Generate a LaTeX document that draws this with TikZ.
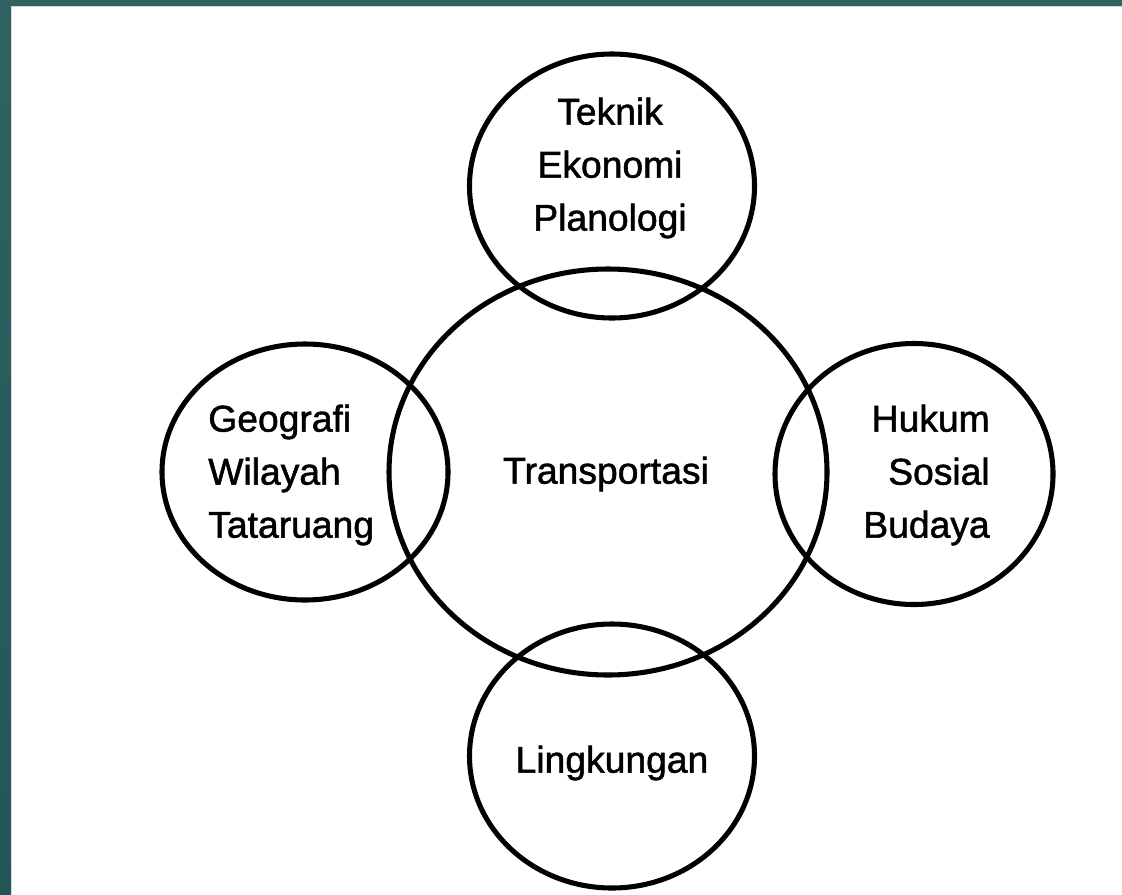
\documentclass[tikz,border=0pt]{standalone}
\usepackage{fontspec}
\setmainfont{Liberation Sans}
\newfontfamily\fieldfont{Liberation Sans}[FakeBold=1.4]
\usepackage{xcolor}
\usetikzlibrary{shapes.geometric}
\definecolor{framecolor}{RGB}{46,99,97}
\definecolor{framedark}{RGB}{35,86,88}
\begin{document}
\begin{tikzpicture}[x=0.025cm,y=-0.025cm,
	ring/.style={draw,ellipse,line width=3.6pt,inner sep=0pt},
	field/.style={inner sep=0pt,font=\fieldfont\fontsize{26.5}{37.7}\selectfont}]
	\useasboundingbox (0,0) rectangle (1122,894);
	\shade[top color=framecolor,bottom color=framedark] (0,0) rectangle (11,894);
	\fill[framecolor] (0,0) rectangle (1122,6);
	\draw[black!15,line width=0.6pt] (11.5,894) -- (11.5,6.5) -- (1122,6.5);
	\node[ring,minimum width=438*0.025cm,minimum height=406*0.025cm] (transport) at (608,472) {};
	\node[ring,minimum width=285*0.025cm,minimum height=264*0.025cm] (teknik) at (612,186) {};
	\node[ring,minimum width=286*0.025cm,minimum height=256*0.025cm] (geografi) at (305,472) {};
	\node[ring,minimum width=278*0.025cm,minimum height=261*0.025cm] (hukum) at (914,474) {};
	\node[ring,minimum width=285*0.025cm,minimum height=264*0.025cm] (lingkungan) at (612,756) {};
	\node[field] (transporttext) at (606,474) {Transportasi};
	\node[field,align=center] (tekniktext) at (610,168) {Teknik\\Ekonomi\\Planologi};
	\node[field,align=left,anchor=west] (geografitext) at (208,475) {Geografi\\Wilayah\\Tataruang};
	\node[field,align=right,anchor=east] (hukumtext) at (990,475) {Hukum\\Sosial\\Budaya};
	\node[field] (lingkungantext) at (612,763) {Lingkungan};
\end{tikzpicture}
\end{document}
